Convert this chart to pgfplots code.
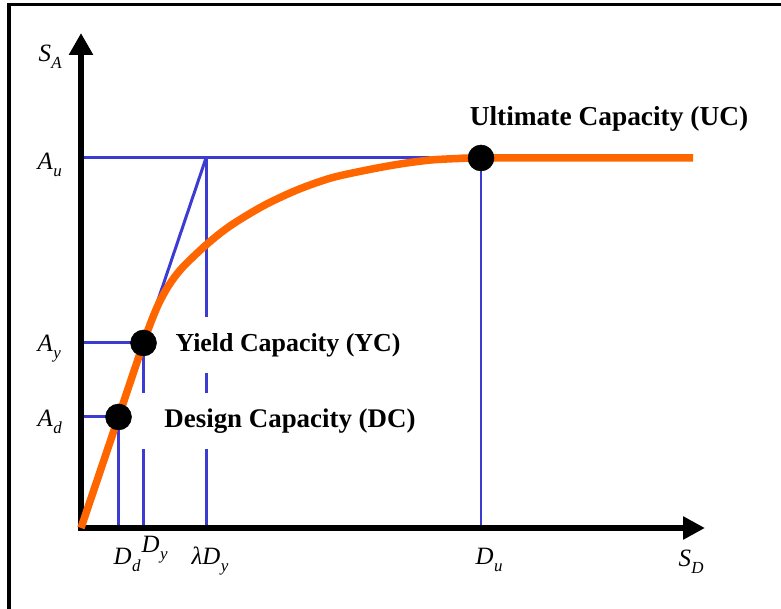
\documentclass[border=0pt]{standalone}
\usepackage{fontspec}
\setmainfont{Liberation Serif}
\usepackage{pgfplots}
\pgfplotsset{compat=1.18}
\usetikzlibrary{arrows.meta}
\definecolor{cblue}{RGB}{60,60,210}
\definecolor{corange}{RGB}{255,102,0}
\newcommand{\sym}[2]{\textit{#1}\kern0.5bp\raisebox{-7bp}{\fontsize{17}{17}\selectfont\textit{#2}}}
\begin{document}
\begin{tikzpicture}
\begin{axis}[at={(0,0)}, anchor=south west, scale only axis,
  width=781bp, height=609bp,
  xmin=-81, xmax=700, ymin=-81, ymax=528,
  axis lines=none, xtick=\empty, ytick=\empty, clip=false]
% frame
\draw[line width=3.5bp] (axis cs:-72,-90) -- (axis cs:-72,523.5) -- (axis cs:710,523.5);
% blue guide lines
\addplot[cblue, line width=3bp] coordinates {(0,370) (349,370)};
\addplot[cblue, line width=3bp] coordinates {(0,185) (62.5,185)};
\addplot[cblue, line width=3bp] coordinates {(0,111) (37.5,111)};
\addplot[cblue, line width=3bp] coordinates {(37.5,111) (37.5,0)};
\addplot[cblue, line width=3bp] coordinates {(62.5,185) (62.5,0)};
\addplot[cblue, line width=3bp] coordinates {(0,0) (125,370)};
\addplot[cblue, line width=3bp] coordinates {(125,370) (125,0)};
\addplot[cblue, line width=2.5bp] coordinates {(400,370) (400,0)};
% labels with white boxes
\node[fill=white, inner xsep=24bp, inner ysep=16bp, font=\fontsize{26}{26}\selectfont\bfseries] at (axis cs:207,183) {Yield Capacity (YC)};
\node[fill=white, inner xsep=24bp, inner ysep=16bp, font=\fontsize{27}{27}\selectfont\bfseries] at (axis cs:209,107) {Design Capacity (DC)};
\node[font=\fontsize{27.5}{27.5}\selectfont\bfseries] at (axis cs:528,409) {Ultimate Capacity (UC)};
% axes
\addplot[black, line width=5.5bp, -{Triangle[length=22bp,width=23bp]}] coordinates {(0,-2.75) (0,495)};
\addplot[black, line width=5.5bp, -{Triangle[length=22bp,width=22bp]}] coordinates {(-2.75,0) (624,0)};
% capacity curve
\addplot[corange, line width=7.5bp, smooth, line cap=butt] coordinates {
(0,0) (37.5,111) (62.5,185) (70,206) (78,225) (88,243) (101,260) (125,283)
(149,302) (182,322) (216,338) (250,350) (286,358) (319,364) (350,368)
(380,369.6) (400,370) (612,370)};
% points
\addplot[only marks, mark=*, mark size=13bp, black, mark options={line width=0.5pt}] coordinates {(37.5,111) (62.5,185) (400,370)};
% axis symbols
\begin{scope}[every node/.style={font=\fontsize{25}{25}\selectfont}]
\node[anchor=base west] at (axis cs:-46,466) {\sym{S}{A}};
\node[anchor=base west] at (axis cs:-47,358) {\sym{A}{u}};
\node[anchor=base west] at (axis cs:-47,176) {\sym{A}{y}};
\node[anchor=base west] at (axis cs:-47,101) {\sym{A}{d}};
\node[anchor=base west] at (axis cs:29,-37) {\sym{D}{d}};
\node[anchor=base west] at (axis cs:57,-25) {\sym{D}{y}};
\node[anchor=base west] at (axis cs:107,-37) {\textit{λ}\sym{D}{y}};
\node[anchor=base west] at (axis cs:391,-37) {\sym{D}{u}};
\node[anchor=base west] at (axis cs:594,-39) {\sym{S}{D}};
\end{scope}
\end{axis}
\pgfresetboundingbox
\path (0,0) rectangle (781bp,609bp);
\end{tikzpicture}
\end{document}
